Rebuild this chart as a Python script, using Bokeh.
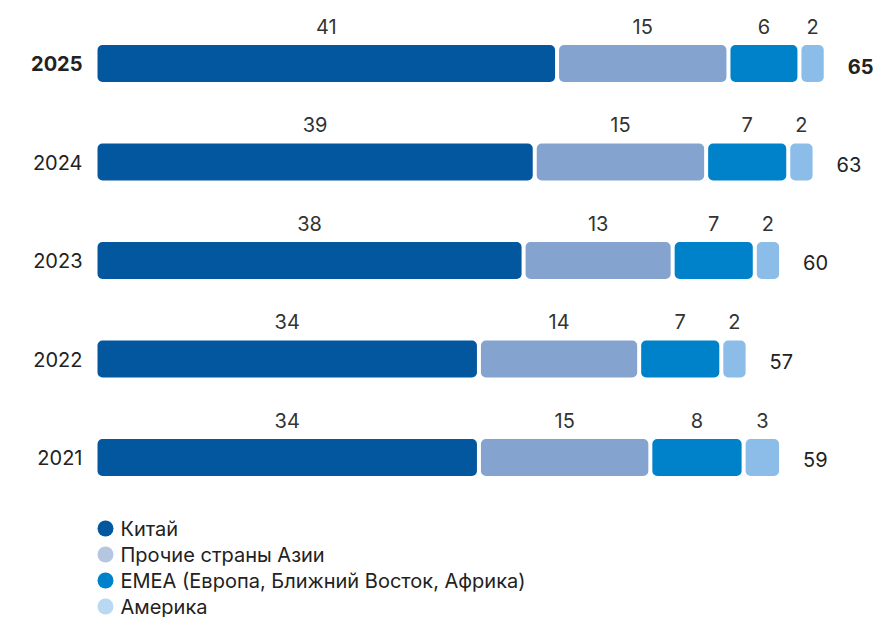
from bokeh.plotting import figure
from bokeh.models import Range1d, ColumnDataSource
from bokeh.layouts import column
from bokeh.embed import file_html
from bokeh.resources import INLINE
from bokeh.core.properties import value

years = ["2025", "2024", "2023", "2022", "2021"]
china = [41, 39, 38, 34, 34]
other_asia = [15, 15, 13, 14, 15]
emea = [6, 7, 7, 7, 8]
america = [2, 2, 2, 2, 3]
totals = [65, 63, 60, 57, 59]
series_names = ["Китай", "Прочие страны Азии", "EMEA (Европа, Ближний Восток, Африка)", "Америка"]
bar_colors = ["#02579e", "#84a4cf", "#0082ca", "#8bbde8"]
legend_colors = ["#02579e", "#b4c6e0", "#0082ca", "#b9d9f2"]

FONT = "Inter"
FS = "20px"
W = 876
H_MAIN = 500
H_LEG = 117
PX_PER_UNIT = 11.16
ROW_PX = 98.5
LEFT_PX = 97
TOP_PX = 63
GAP = 4 / PX_PER_UNIT
BAR_H = 37 / ROW_PX

p = figure(width=W, height=H_MAIN, output_backend="svg", toolbar_location=None,
           x_range=Range1d(-LEFT_PX / PX_PER_UNIT, (W - LEFT_PX) / PX_PER_UNIT),
           y_range=Range1d((H_MAIN - TOP_PX) / ROW_PX, -TOP_PX / ROW_PX),
           min_border=0, outline_line_color=None)
p.axis.visible = False
p.grid.visible = False
p.background_fill_color = "white"

series = [china, other_asia, emea, america]
ys = list(range(len(years)))
starts = [0.0] * len(years)
for k, vals in enumerate(series):
    lefts = [starts[i] + k * GAP for i in range(len(years))]
    rights = [lefts[i] + vals[i] for i in range(len(years))]
    src = ColumnDataSource(dict(y=ys, left=lefts, right=rights,
                                mid=[(l + r) / 2 for l, r in zip(lefts, rights)],
                                top=[y - BAR_H / 2 for y in ys],
                                lab=[str(v) for v in vals]))
    p.hbar(y="y", left="left", right="right", height=BAR_H, source=src,
           fill_color=bar_colors[k], line_color=None, border_radius=5)
    p.text(x="mid", y="top", text="lab", source=src, text_align="center",
           text_baseline="middle", y_offset=-19, text_font=value(FONT),
           text_font_size=FS, text_color="#333333")
    starts = [starts[i] + vals[i] for i in range(len(years))]

ends = [starts[i] + 3 * GAP for i in range(len(years))]
for i, yr in enumerate(years):
    bold = (i == 0)
    p.text(x=[0], y=[ys[i]], text=[yr], text_align="right", text_baseline="middle",
           x_offset=-15, text_font=value(FONT), text_font_size=FS,
           text_font_style="bold" if bold else "normal", text_color="#222222")
    p.text(x=[ends[i]], y=[ys[i]], text=[str(totals[i])], text_align="left",
           text_baseline="middle", x_offset=24, y_offset=3 if bold else 2,
           text_font=value(FONT), text_font_size=FS,
           text_font_style="bold" if bold else "normal", text_color="#222222")

leg = figure(width=W, height=H_LEG, output_backend="svg", toolbar_location=None,
             x_range=Range1d(0, W), y_range=Range1d(H_LEG, 0),
             min_border=0, outline_line_color=None)
leg.axis.visible = False
leg.grid.visible = False
ly = [28 + 26 * i for i in range(4)]
leg.scatter(x=[105] * 4, y=ly, size=16, fill_color=legend_colors, line_color=None)
leg.text(x=[120] * 4, y=ly, text=series_names, text_baseline="middle", text_align="left",
         text_font=value(FONT), text_font_size=FS, text_color="#222222")

layout = column(p, leg, spacing=0)
open("out.html", "w").write(file_html(layout, INLINE))
